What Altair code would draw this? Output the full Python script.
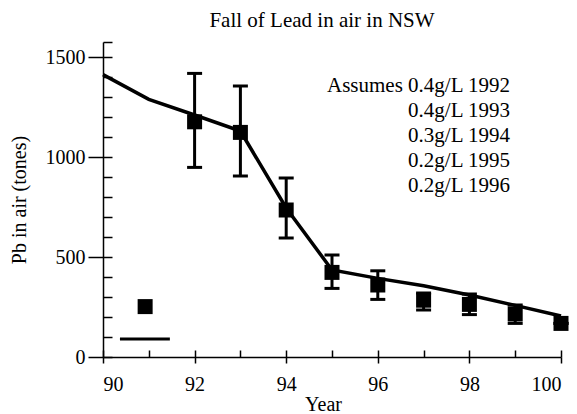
import altair as alt
import pandas as pd

# ---- data ----
line_years = [90, 91, 92, 93, 94, 95, 96, 97, 98, 99, 100]
line_pb = [1412, 1288, 1210, 1130, 745, 435, 393, 356, 310, 258, 205]

obs_years = [92, 93, 94, 95, 96, 97, 98, 99, 100]
obs_pb = [1176, 1123, 735, 423, 360, 284, 263, 215, 168]
err_low = [948, 905, 595, 343, 288, 235, 212, 168, 168]
err_high = [1418, 1355, 895, 510, 431, 320, 315, 260, 168]

key_marker_x = [90.92]
key_marker_y = [252]
key_line_x = [90.37, 91.46]
key_line_y = [90, 90]

annotation_lines = ["Assumes 0.4g/L 1992", "0.4g/L 1993", "0.3g/L 1994",
                    "0.2g/L 1995", "0.2g/L 1996"]

x_major = [90, 92, 94, 96, 98, 100]
x_minor = [90, 91, 92, 93, 94, 95, 96, 97, 98, 99, 100]
y_major = [0, 500, 1000, 1500]
y_minor = [0, 100, 200, 300, 400, 500, 600, 700, 800, 900, 1000,
           1100, 1200, 1300, 1400, 1500, 1575]

FONT = "Liberation Serif"
W, H = 458, 315

line_df = pd.DataFrame({"year": line_years, "pb": line_pb})
obs_df = pd.DataFrame({"year": obs_years, "pb": obs_pb, "lo": err_low, "hi": err_high})
key_m_df = pd.DataFrame({"year": key_marker_x, "pb": key_marker_y})
key_l_df = pd.DataFrame({"year": key_line_x, "pb": key_line_y})
ann_df = pd.DataFrame({"t": ["\n".join(annotation_lines)]})

xs = alt.Scale(domain=[90, 100], nice=False, zero=False)
ys = alt.Scale(domain=[0, 1575], nice=False, zero=False)

x_main_axis = alt.Axis(values=x_major, format="d", tickSize=6, tickWidth=1.5,
                       domainWidth=1.5, domainColor="black", tickColor="black",
                       labelFont=FONT, labelFontSize=20, labelColor="black",
                       labelPadding=11, grid=False, title="Year", titleFont=FONT,
                       titleFontSize=20, titleFontWeight="normal", titleColor="black",
                       titlePadding=0, titleX=220)
y_main_axis = alt.Axis(values=y_major, format="d", tickSize=15, tickWidth=1.5,
                       domainWidth=1.5, domainColor="black", tickColor="black",
                       labelFont=FONT, labelFontSize=20, labelColor="black",
                       labelPadding=3, grid=False, title="Pb in air (tones)",
                       titleFont=FONT, titleFontSize=20, titleFontWeight="normal",
                       titleColor="black", titlePadding=16)
x_minor_axis = alt.Axis(orient="top", offset=-H, values=x_minor, tickSize=7,
                        tickWidth=1.5, tickColor="black", labels=False, domain=False,
                        grid=False, title=None)
y_minor_axis = alt.Axis(orient="right", offset=-W, values=y_minor, tickSize=9,
                        tickWidth=1.5, tickColor="black", labels=False, domain=False,
                        grid=False, title=None)

line = alt.Chart(line_df).mark_line(color="black", strokeWidth=3.5).encode(
    x=alt.X("year:Q", scale=xs, axis=x_main_axis),
    y=alt.Y("pb:Q", scale=ys, axis=y_main_axis),
)

markers = alt.Chart(obs_df).mark_square(color="black", opacity=1, size=225).encode(
    x=alt.X("year:Q", scale=xs, axis=x_minor_axis),
    y=alt.Y("pb:Q", scale=ys, axis=y_minor_axis),
)

bars = alt.Chart(obs_df).mark_rule(color="black", strokeWidth=3).encode(
    x=alt.X("year:Q", scale=xs, axis=None),
    y=alt.Y("lo:Q", scale=ys, axis=None),
    y2="hi:Q",
)

cap_lo = alt.Chart(obs_df).mark_tick(color="black", thickness=3, size=15,
                                      orient="horizontal", opacity=1).encode(
    x=alt.X("year:Q", scale=xs, axis=None),
    y=alt.Y("lo:Q", scale=ys, axis=None),
)
cap_hi = alt.Chart(obs_df).mark_tick(color="black", thickness=3, size=15,
                                      orient="horizontal", opacity=1).encode(
    x=alt.X("year:Q", scale=xs, axis=None),
    y=alt.Y("hi:Q", scale=ys, axis=None),
)

key_marker = alt.Chart(key_m_df).mark_square(color="black", opacity=1, size=225).encode(
    x=alt.X("year:Q", scale=xs, axis=None),
    y=alt.Y("pb:Q", scale=ys, axis=None),
)
key_line = alt.Chart(key_l_df).mark_line(color="black", strokeWidth=3).encode(
    x=alt.X("year:Q", scale=xs, axis=None),
    y=alt.Y("pb:Q", scale=ys, axis=None),
)

ann = alt.Chart(ann_df).mark_text(font=FONT, fontSize=21, color="black", align="right",
                                  baseline="alphabetic", lineBreak="\n",
                                  lineHeight=25).encode(
    x=alt.value(407), y=alt.value(50), text="t:N"
)

chart = alt.layer(line, bars, cap_lo, cap_hi, markers, key_marker, key_line, ann).resolve_axis(
    x="independent", y="independent"
).properties(
    width=W, height=H,
    title=alt.TitleParams("Fall of Lead in air in NSW", font=FONT, fontSize=21,
                          fontWeight="normal", color="black", anchor="middle",
                          dx=-10, offset=10),
    autosize=alt.AutoSizeParams(type="none"),
    padding={"left": 103, "top": 42, "right": 16, "bottom": 57},
    background="white",
).configure_view(stroke=None).configure_axis(
    labelFont=FONT, titleFont=FONT
).configure_title(font=FONT)

chart.save("out.html", embed_options={"renderer": "svg", "actions": False})
